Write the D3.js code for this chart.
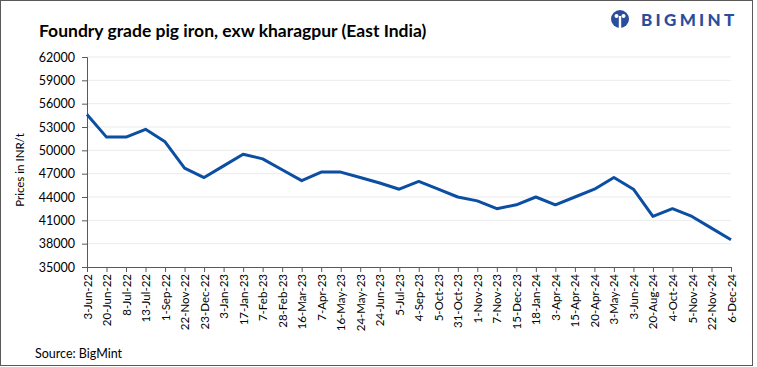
<!DOCTYPE html>
<html>
<head>
<meta charset="utf-8">
<script src="https://cdn.jsdelivr.net/npm/d3@7"></script>
<style>
  body { margin: 0; background: #fff; }
  text { font-family: Lato, "Open Sans", sans-serif; }
</style>
</head>
<body>
<div id="chart"></div>
<script>
var svgWidth = 757;
var svgHeight = 367;

var margin = { top: 57, right: 26, bottom: 100, left: 87 };
var width = 731 - margin.left;
var height = 267 - margin.top;

// data
var dates = ["3-Jun-22", "20-Jun-22", "8-Jul-22", "13-Jul-22", "1-Sep-22", "22-Nov-22",
  "23-Dec-22", "3-Jan-23", "17-Jan-23", "7-Feb-23", "28-Feb-23", "16-Mar-23", "7-Apr-23",
  "16-May-23", "24-May-23", "24-Jun-23", "5-Jul-23", "4-Sep-23", "5-Oct-23", "31-Oct-23",
  "1-Nov-23", "7-Nov-23", "15-Dec-23", "18-Jan-24", "3-Apr-24", "15-Apr-24", "20-Apr-24",
  "3-May-24", "3-Jun-24", "20-Aug-24", "4-Oct-24", "5-Nov-24", "22-Nov-24", "6-Dec-24"];

var prices = [54600, 51700, 51700, 52700, 51100, 47700,
  46500, 48000, 49500, 48900, 47500, 46100, 47200,
  47200, 46500, 45800, 45000, 46000, 45000, 44000,
  43500, 42500, 43000, 44000, 43000, 44000, 45000,
  46500, 45000, 41500, 42500, 41500, 40000, 38500];

var yTicks = [35000, 38000, 41000, 44000, 47000, 50000, 53000, 56000, 59000, 62000];

var svg = d3.select("#chart")
  .append("svg")
  .attr("width", svgWidth)
  .attr("height", svgHeight);

// outer frame
svg.append("rect")
  .attr("x", 0.5).attr("y", 0.5)
  .attr("width", 752).attr("height", 365)
  .attr("fill", "#fff")
  .attr("stroke", "#595959");

var chartGroup = svg.append("g")
  .attr("transform", `translate(${margin.left}, ${margin.top})`);

var xScale = d3.scalePoint()
  .domain(dates)
  .range([0, width]);

var yScale = d3.scaleLinear()
  .domain([35000, 62000])
  .range([height, 0]);

// gridlines
chartGroup.append("g")
  .selectAll("line")
  .data(yTicks.slice(1))
  .enter()
  .append("line")
  .attr("x1", 0)
  .attr("x2", width)
  .attr("y1", d => yScale(d))
  .attr("y2", d => yScale(d))
  .attr("stroke", "#ebebeb")
  .attr("stroke-width", 1);

// y axis
var leftAxis = d3.axisLeft(yScale)
  .tickValues(yTicks)
  .tickSize(5)
  .tickPadding(7)
  .tickFormat(d3.format("d"));

var yAxis = chartGroup.append("g")
  .call(leftAxis);
yAxis.selectAll("path, line").attr("stroke", "#595959");
yAxis.selectAll("text")
  .attr("font-size", "12.5px")
  .attr("fill", "#000");

// x axis
var bottomAxis = d3.axisBottom(xScale)
  .tickSizeOuter(0)
  .tickSize(5)
  .tickPadding(4);

var xAxis = chartGroup.append("g")
  .attr("transform", `translate(0, ${height})`)
  .call(bottomAxis);
xAxis.selectAll("path, line").attr("stroke", "#595959");
xAxis.selectAll("text")
  .attr("font-size", "11.5px")
  .attr("fill", "#000")
  .attr("text-anchor", "end")
  .attr("dy", "0.35em")
  .attr("transform", "rotate(-90)")
  .attr("x", -7)
  .attr("y", 0);

// price line
var line = d3.line()
  .x((d, i) => xScale(dates[i]))
  .y(d => yScale(d));

chartGroup.append("path")
  .datum(prices)
  .attr("d", line)
  .attr("fill", "none")
  .attr("stroke", "#0b4ea2")
  .attr("stroke-width", 3)
  .attr("stroke-linejoin", "round");

// title
svg.append("text")
  .attr("x", 39)
  .attr("y", 37)
  .attr("font-size", "17.5px")
  .attr("font-weight", "bold")
  .attr("fill", "#000")
  .text("Foundry grade pig iron, exw kharagpur (East India)");

// y label
svg.append("text")
  .attr("transform", "translate(24, 170) rotate(-90)")
  .attr("text-anchor", "middle")
  .attr("font-size", "11.5px")
  .attr("fill", "#000")
  .text("Prices in INR/t");

// source
svg.append("text")
  .attr("x", 35)
  .attr("y", 358)
  .attr("font-size", "12.5px")
  .attr("fill", "#000")
  .text("Source: BigMint");

// logo
var logo = svg.append("g").attr("transform", "translate(620, 19)");
logo.append("circle").attr("r", 9).attr("fill", "#2b4e9c");
logo.append("circle").attr("cx", -3.5).attr("cy", -3).attr("r", 2).attr("fill", "#fff");
logo.append("circle").attr("cx", 3.5).attr("cy", -3).attr("r", 2).attr("fill", "#fff");
logo.append("rect").attr("x", -1.2).attr("y", -3).attr("width", 2.4).attr("height", 12).attr("fill", "#fff");
logo.append("text")
  .attr("x", 21)
  .attr("y", 6.5)
  .attr("font-size", "17px")
  .attr("font-weight", "900")
  .attr("letter-spacing", "3.3px")
  .attr("fill", "#2b4e9c")
  .text("BIGMINT");
</script>
</body>
</html>
